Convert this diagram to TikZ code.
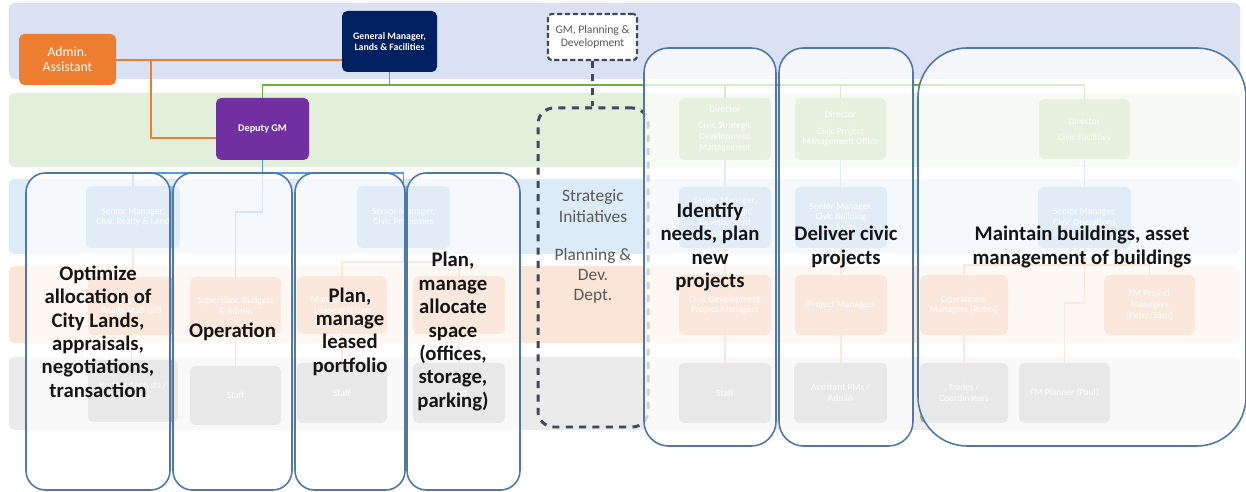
\documentclass[tikz,border=0pt]{standalone}
\usepackage{fontspec}
\setmainfont{Carlito}
\usetikzlibrary{calc}

% band colours
\definecolor{bandTop}{HTML}{D9E1F2}
\definecolor{bandGreen}{HTML}{E2EFDA}
\definecolor{bandBlue}{HTML}{DDEBF7}
\definecolor{bandOrange}{HTML}{FBE5D6}
\definecolor{bandGray}{HTML}{EBEBEB}
% box colours
\definecolor{adminOrange}{HTML}{ED7D31}
\definecolor{gmNavy}{HTML}{002060}
\definecolor{dgmPurple}{HTML}{7030A0}
\definecolor{slate}{HTML}{3E4A5E}
\definecolor{lineGreen}{HTML}{70AD47}
\definecolor{lineBlue}{HTML}{5B9BD5}
\definecolor{boxGreen}{HTML}{A0C984}
\definecolor{boxBlue}{HTML}{8FB8E2}
\definecolor{boxOrange}{HTML}{F2A878}
\definecolor{boxGray}{HTML}{A8A8A8}
\definecolor{frameBlue}{HTML}{4F78A4}
\definecolor{deptText}{HTML}{595959}
\definecolor{ink}{HTML}{151515}

% a box placed by its pixel corners: name, x1, y1, x2, y2, style, text
\newcommand{\pbox}[7]{%
  \node[#6, minimum width={(#4-#2)*0.02cm}, minimum height={(#5-#3)*0.02cm}]
    (#1) at ({(#2+#4)/2},{(#3+#5)/2}) {#7};}

\tikzset{
  orgbox/.style={rounded corners=3pt, inner sep=1pt, align=center},
  adminbox/.style={orgbox, fill=adminOrange, text=white,
    font=\fontsize{7.8}{8.6}\selectfont},
  gmbox/.style={orgbox, fill=gmNavy, text=white,
    font=\bfseries\fontsize{5.6}{6.3}\selectfont},
  dgmbox/.style={orgbox, fill=dgmPurple, text=white,
    font=\bfseries\fontsize{5.8}{6.5}\selectfont},
  gmpbox/.style={orgbox, rounded corners=2pt, fill=white, draw=slate,
    line width=1.2pt, dash pattern=on 3pt off 1.5pt, text=deptText,
    font=\fontsize{6.6}{7.3}\selectfont},
  faded/.style={orgbox, text=white, font=\fontsize{5.4}{6.2}\selectfont},
  fgreen/.style={faded, fill=boxGreen},
  fblue/.style={faded, fill=boxBlue},
  forange/.style={faded, fill=boxOrange},
  fgray/.style={faded, fill=boxGray},
  lnorange/.style={draw=adminOrange, line width=1pt},
  lngreen/.style={draw=lineGreen, line width=1pt},
  lnblue/.style={draw=lineBlue, line width=1pt},
  lnsoft/.style={draw=boxOrange, line width=0.8pt},
  lnsoftblue/.style={draw=boxBlue, line width=0.8pt},
  dashframe/.style={draw=slate, line width=1.7pt, dash pattern=on 4pt off 3.6pt,
    rounded corners=9pt},
  dashlink/.style={draw=slate, line width=1.7pt, dash pattern=on 4pt off 3.6pt},
  sitext/.style={text=deptText, align=center,
    font=\fontsize{9.9}{11.5}\selectfont},
  overlay/.style={draw=frameBlue, line width=0.9pt, fill=white,
    fill opacity=0.74, text opacity=1, text=ink, rounded corners=11pt,
    align=center, inner sep=0pt,
    font=\bfseries\fontsize{11.8}{13.3}\selectfont},
  overlaywide/.style={overlay, rounded corners=14pt},
  overlaybig/.style={overlay, rounded corners=28pt}
}

\begin{document}
\begin{tikzpicture}[x=0.02cm, y=-0.02cm]
\useasboundingbox (0,0) rectangle (1246,492);

% level bands
\fill[bandTop, rounded corners=3pt] (9,3) rectangle (1240,79);
\fill[bandGreen, rounded corners=3pt] (9,93) rectangle (1240,167);
\fill[bandBlue, rounded corners=3pt] (9,179) rectangle (1240,254);
\fill[bandOrange, rounded corners=3pt] (9,266) rectangle (1240,343);
\fill[bandGray, rounded corners=3pt] (9,357) rectangle (1240,430);

% junction points of the connectors
\coordinate (abr) at (151,60);
\coordinate (abd) at (151,138);
\coordinate (gbus) at (0,85);
\coordinate (bbus) at (0,173);
\coordinate (bjog) at (0,212);
\coordinate (pbus) at (0,262);
\coordinate (fbus) at (0,265);
\coordinate (fjog) at (0,303);

% top of the chart
\pbox{adm}{19}{34}{116}{85}{adminbox}{Admin.\\Assistant}
\pbox{gm}{342}{11}{437}{72}{gmbox}{General Manager,\\Lands \& Facilities}
\pbox{dgm}{216}{98}{309}{160}{dgmbox}{Deputy GM}

% directors
\pbox{dsd}{679}{98}{771}{160}{fgreen}{Director\\[3pt]Civic Strategic\\Development\\Management}
\pbox{dpm}{795}{98}{886}{160}{fgreen}{Director\\[3pt]Civic Project\\Management Office}
\pbox{dfa}{1039}{99}{1130}{159}{fgreen}{Director\\[3pt]Civic Facilities}

% senior managers
\pbox{smr}{86}{186}{180}{248}{fblue}{Senior Manager,\\Civic Realty \& Land}
\pbox{smp}{357}{186}{450}{248}{fblue}{Senior Manager,\\Civic Properties}
\pbox{smd}{679}{187}{771}{248}{fblue}{Senior Manager,\\Civic Strategic\\Development\\Management}
\pbox{smb}{795}{187}{887}{248}{fblue}{Senior Manager,\\Civic Building\\Projects}
\pbox{smo}{1038}{187}{1131}{248}{fblue}{Senior Manager,\\Civic Operations}

% managers and supervisors
\pbox{sur}{88}{277}{175}{335}{forange}{Supervisor,\\Realty Staff (all)}
\pbox{sub}{190}{277}{281}{335}{forange}{Supervisor, Budgets\\\& Admin}
\pbox{mrl}{297}{276}{387}{334}{forange}{Manager, Realty\\Lease and Use}
\pbox{msp}{413}{276}{505}{334}{forange}{Manager Space}
\pbox{cdp}{679}{275}{771}{335}{forange}{Civic Development\\Project Managers}
\pbox{prm}{795}{275}{887}{335}{forange}{Project Managers}
\pbox{opm}{920}{275}{1008}{335}{forange}{Operational\\Managers (Robbi)}
\pbox{fpm}{1104}{275}{1195}{335}{forange}{FM Project\\Managers\\(Peter/Sam)}

% staff
\pbox{bud}{88}{360}{178}{422}{fgray}{Budget Analysts /\\Staff}
\pbox{st2}{190}{366}{281}{425}{fgray}{Staff}
\pbox{st3}{297}{363}{387}{423}{fgray}{Staff}
\pbox{st4}{413}{363}{505}{423}{fgray}{Staff}
\pbox{st5}{679}{363}{771}{423}{fgray}{Staff}
\pbox{apm}{794}{363}{887}{423}{fgray}{Assistant PMs /\\Admin}
\pbox{trc}{920}{363}{1008}{423}{fgray}{Trades /\\Coordinators}
\pbox{fpl}{1019}{363}{1110}{423}{fgray}{FM Planner (Paul)}

% admin assistant links
\draw[lnorange] (adm.east |- abr) -- (gm.west |- abr);
\draw[lnorange] (abr) -- (abd) -- (dgm.west |- abd);

% general manager to deputy and directors
\draw[lngreen] (gm.south) -- (gm.south |- gbus);
\draw[lngreen] (dgm.north) -- (dgm.north |- gbus) -- (dfa.north |- gbus) -- (dfa.north);
\draw[lngreen] (dsd.north |- gbus) -- (dsd.north);
\draw[lngreen] (dpm.north |- gbus) -- (dpm.north);

% deputy GM branch
\draw[lnblue] (dgm.south) -- (dgm.south |- bbus);
\draw[lnblue] (smr.north) -- (smr.north |- bbus) -- (smp.north |- bbus) -- (smp.north);
\draw[lnblue] (dgm.south |- bbus) -- (dgm.south |- bjog) -- (sub.north |- bjog) -- (sub.north);
\draw[lnsoft] (smr.south) -- (smr.south |- sur.north);
\draw[lnsoft] (sur.south) -- (sur.south |- bud.north);
\draw[lnsoft] (sub.south) -- (st2.north);
\draw[lnsoft] (smp.south) -- (smp.south |- pbus);
\draw[lnsoft] (mrl.north) -- (mrl.north |- pbus) -- (msp.north |- pbus) -- (msp.north);
\draw[lnsoft] (mrl.south) -- (st3.north);
\draw[lnsoft] (msp.south) -- (st4.north);

% directors' branches
\draw[lnsoftblue] (dsd.south) -- (smd.north);
\draw[lnsoft] (smd.south) -- (cdp.north);
\draw[lnsoft] (cdp.south) -- (st5.north);
\draw[lnsoftblue] (dpm.south) -- (dpm.south |- smb.north);
\draw[lnsoft] (smb.south) -- (smb.south |- prm.north);
\draw[lnsoft] (prm.south) -- (prm.south |- apm.north);
\draw[lnsoftblue] (dfa.south) -- (dfa.south |- smo.north);
\draw[lnsoft] (smo.south) -- (smo.south |- fbus);
\draw[lnsoft] (opm.north) -- (opm.north |- fbus) -- (fpm.north |- fbus) -- (fpm.north);
\draw[lnsoft] (smo.south |- fbus) -- (smo.south |- fjog) -- (fpl.north |- fjog) -- (fpl.north);
\draw[lnsoft] (opm.south) -- (trc.north);

% planning and development department
\pbox{gmp}{548}{14}{637}{60}{gmpbox}{GM, Planning \&\\Development}
\pbox{sid}{538}{108}{648}{427}{dashframe}{}
\draw[dashlink] (gmp.south) -- (gmp.south |- sid.north);
\node[sitext] (sit) at (593,206) {Strategic\\Initiatives};
\node[sitext] (pdd) at (593,276) {Planning \&\\Dev.\\Dept.};

% functional groupings laid over the chart
\pbox{ov1}{26}{173}{170}{490}{overlay}{Optimize\\allocation of\\City Lands,\\appraisals,\\negotiations,\\transaction}
\pbox{ov2}{173}{173}{292}{490}{overlay}{Operation}
\pbox{ov3}{295}{173}{405}{490}{overlay}{Plan,\\manage\\leased\\portfolio}
\pbox{ov4}{407}{173}{520}{490}{overlay}{\hspace*{-12pt}Plan,\\\hspace*{-12pt}manage\\\hspace*{-12pt}allocate\\\hspace*{-12pt}space\\\hspace*{-12pt}(offices,\\\hspace*{-12pt}storage,\\\hspace*{-12pt}parking)}
\pbox{ov5}{644}{48}{776}{446}{overlaywide}{Identify\\needs, plan\\new\\projects}
\pbox{ov6}{779}{48}{913}{446}{overlaywide}{Deliver civic\\projects}
\pbox{ov7}{918}{48}{1246}{446}{overlaybig}{Maintain buildings, asset\\management of buildings}

\end{tikzpicture}
\end{document}
